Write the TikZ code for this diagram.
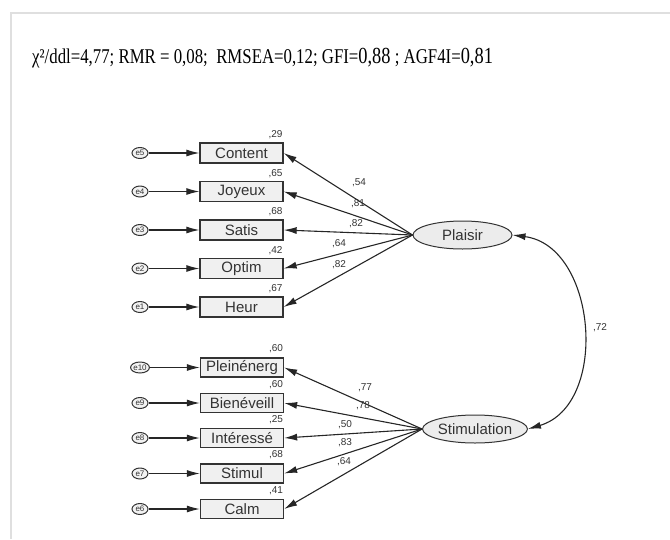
\documentclass[tikz,border=0pt]{standalone}
\usepackage{fontspec}
\setmainfont{Liberation Serif}
\newfontfamily\arialf{Liberation Sans}
\usetikzlibrary{arrows.meta,shapes.geometric}
\begin{document}
\begin{tikzpicture}[x=1pt,y=1pt,
 obs/.style={draw=black!80, line width=1.3pt, fill=gray!12, minimum width=83pt, minimum height=20pt, inner sep=0pt, font=\arialf\fontsize{15}{15}\selectfont, text=black!80},
 obsb/.style={obs, minimum height=19pt},
 lat/.style={ellipse, draw=black!80, line width=1pt, fill=gray!15, minimum width=99pt, minimum height=28pt, inner sep=0pt, font=\arialf\fontsize{15}{15}\selectfont, text=black!80},
 err/.style={ellipse, draw=black!80, line width=1pt, fill=gray!10, minimum width=16pt, minimum height=11pt, inner sep=0pt, font=\arialf\fontsize{8}{8}\selectfont, text=black!80},
 num/.style={font=\arialf\fontsize{10}{10}\selectfont, text=black!80, inner sep=0pt},
 arr/.style={-{Latex[length=13pt,width=7pt]}, line width=1.1pt, black!85},
 dbl/.style={{Latex[length=13pt,width=7pt]}-{Latex[length=13pt,width=7pt]}, line width=1.1pt, black!85},
]
\useasboundingbox (0,0) rectangle (670,-539);
\draw[gray!25, line width=2pt] (670,-13) -- (11,-13) -- (11,-539);

\node[anchor=base west, inner sep=0pt] (title) at (32,-63) {\scalebox{0.8}[1]{\fontsize{21}{21}\selectfont χ²/ddl=4,77; RMR = 0,08;\ \ RMSEA=0,12; GFI={\fontsize{23}{23}\selectfont 0,88} ; AGF4I={\fontsize{23}{23}\selectfont 0,81}}};

% latent
\node[lat] (P) at (462.5,-235) {Plaisir};
\node[lat, minimum width=100pt] (S) at (475,-429) {Stimulation};

% observed group 1
\node[obs] (b5) at (241.5,-153) {Content};
\node[obs] (b4) at (241.5,-191.5) {Joyeux};
\node[obs] (b3) at (241.5,-230) {Satis};
\node[obs] (b2) at (241.5,-268.5) {Optim};
\node[obs] (b1) at (241.5,-307) {Heur};
% observed group 2
\node[obsb] (b10) at (242,-367.5) {Pleinénerg};
\node[obsb] (b9) at (242,-403) {Bienéveill};
\node[obsb] (b8) at (242,-438) {Intéressé};
\node[obsb] (b7) at (242,-473.5) {Stimul};
\node[obsb] (b6) at (242,-509) {Calm};

% errors
\node[err] (e5) at (140,-153) {e5};
\node[err] (e4) at (140,-191.5) {e4};
\node[err] (e3) at (140,-230) {e3};
\node[err] (e2) at (140,-268.5) {e2};
\node[err] (e1) at (140,-307) {e1};
\node[err] (e10) at (140,-367.5) {e10};
\node[err] (e9) at (140,-403) {e9};
\node[err] (e8) at (140,-438) {e8};
\node[err] (e7) at (140,-473.5) {e7};
\node[err] (e6) at (140,-509) {e6};

\foreach \i in {1,...,10} {\draw[arr] (e\i.east) -- (b\i.west);}

% loadings
\foreach \i in {1,...,5} {\draw[arr] (P.west) -- (b\i.east);}
\foreach \i in {6,...,10} {\draw[arr] (S.west) -- (b\i.east);}

% correlation
\draw[dbl] (P.east) to[bend left=78, looseness=1.12] (S.east);
\node[num] (r) at (600,-328) {,72};

% loading labels
\node[num] (l5) at (359,-183) {,54};
\node[num] (l4) at (358,-204) {,81};
\node[num] (l3) at (356,-224) {,82};
\node[num] (l2) at (339,-244) {,64};
\node[num] (l1) at (339,-265) {,82};
\node[num] (l10) at (365,-388) {,77};
\node[num] (l9) at (363,-406) {,78};
\node[num] (l8) at (345,-425) {,50};
\node[num] (l7) at (345,-443) {,83};
\node[num] (l6) at (344,-462) {,64};

% R2 labels
\node[num, anchor=south east] (r5) at ([shift={(-1,3)}]b5.north east) {,29};
\node[num, anchor=south east] (r4) at ([shift={(-1,3)}]b4.north east) {,65};
\node[num, anchor=south east] (r3) at ([shift={(-1,3)}]b3.north east) {,68};
\node[num, anchor=south east] (r2) at ([shift={(-1,3)}]b2.north east) {,42};
\node[num, anchor=south east] (r1) at ([shift={(-1,3)}]b1.north east) {,67};
\node[num, anchor=south east] (r10) at ([shift={(-1,4)}]b10.north east) {,60};
\node[num, anchor=south east] (r9) at ([shift={(-1,4)}]b9.north east) {,60};
\node[num, anchor=south east] (r8) at ([shift={(-1,4)}]b8.north east) {,25};
\node[num, anchor=south east] (r7) at ([shift={(-1,4)}]b7.north east) {,68};
\node[num, anchor=south east] (r6) at ([shift={(-1,4)}]b6.north east) {,41};
\end{tikzpicture}
\end{document}
